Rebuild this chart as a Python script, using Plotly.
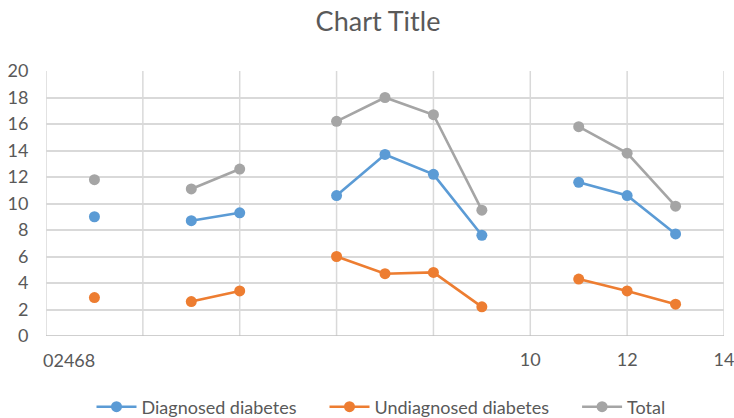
import plotly.graph_objects as go

# Survey periods (x) with gaps where no data was recorded
periods = [1, 2, 3, 4, 5, 6, 7, 8, 9, 10, 11, 12, 13]
diagnosed = [9.0, None, 8.7, 9.3, None, 10.6, 13.7, 12.2, 7.6, None, 11.6, 10.6, 7.7]
undiagnosed = [2.9, None, 2.6, 3.4, None, 6.0, 4.7, 4.8, 2.2, None, 4.3, 3.4, 2.4]
total = [11.8, None, 11.1, 12.6, None, 16.2, 18.0, 16.7, 9.5, None, 15.8, 13.8, 9.8]

series_names = ["Diagnosed diabetes", "Undiagnosed diabetes", "Total"]
series_colors = ["#5B9BD5", "#ED7D31", "#A5A5A5"]

x_tick_vals = [10, 12, 14]
x_tick_text = ["10", "12", "14"]
x_crowded_label = "02468"
y_tick_vals = list(range(0, 21, 2))

FONT = "Lato, Open Sans, sans-serif"
TEXT = "#595959"
GRID = "#D9D9D9"
LEGEND_PAD = "\u00a0" * 5  # extra spacing between legend entries

fig = go.Figure()
for i, (name, vals, color) in enumerate(zip(series_names, [diagnosed, undiagnosed, total], series_colors)):
    label = name + (LEGEND_PAD if i < len(series_names) - 1 else "")
    fig.add_trace(go.Scatter(
        x=periods, y=vals, name=label, mode="lines+markers",
        connectgaps=False,
        line=dict(color=color, width=2.6),
        marker=dict(color=color, size=11),
    ))

fig.update_layout(
    width=734, height=418,
    margin=dict(l=46, r=10, t=71, b=82, autoexpand=False),
    paper_bgcolor="white", plot_bgcolor="white",
    font=dict(family=FONT, color=TEXT, size=18),
    title=dict(text="Chart Title", x=378 / 734, xanchor="center",
               y=1 - 22 / 418, yanchor="middle", yref="container",
               font=dict(family=FONT, size=27, color=TEXT)),
    legend=dict(orientation="h", x=381 / 734, xanchor="center", xref="container",
                y=1 - 407 / 418, yanchor="middle", yref="container",
                font=dict(family=FONT, size=18, color=TEXT),
                itemwidth=40),
    xaxis=dict(range=[0, 14], showgrid=False, zeroline=False, automargin=False,
               tickmode="array", tickvals=x_tick_vals, ticktext=x_tick_text,
               ticks="outside", ticklen=7, tickcolor="rgba(0,0,0,0)",
               ticklabeloverflow="allow",
               showline=False, tickfont=dict(size=18, color=TEXT)),
    yaxis=dict(range=[0, 20], tickmode="array", tickvals=y_tick_vals,
               automargin=False,
               showgrid=True, gridcolor=GRID, gridwidth=1.5, zeroline=False,
               ticks="outside", ticklen=13, tickcolor="rgba(0,0,0,0)",
               showline=False, tickfont=dict(size=18, color=TEXT)),
)

# vertical gridlines every 2 units
for gx in range(0, 15, 2):
    fig.add_shape(type="line", xref="x", yref="y", x0=gx, x1=gx, y0=0, y1=20,
                  line=dict(color=GRID, width=1.5), layer="below")
# horizontal axis line
fig.add_shape(type="line", xref="x", yref="y", x0=0, x1=14, y0=0, y1=0,
              line=dict(color="#BFBFBF", width=1.5), layer="below")

# crowded low-end tick labels on the x axis
fig.add_annotation(x=0, y=0, xref="x", yref="y", text=x_crowded_label,
                   xanchor="left", yanchor="middle", xshift=-5, yshift=-24,
                   showarrow=False, font=dict(family=FONT, size=18, color=TEXT))

fig.write_html("out.html")
